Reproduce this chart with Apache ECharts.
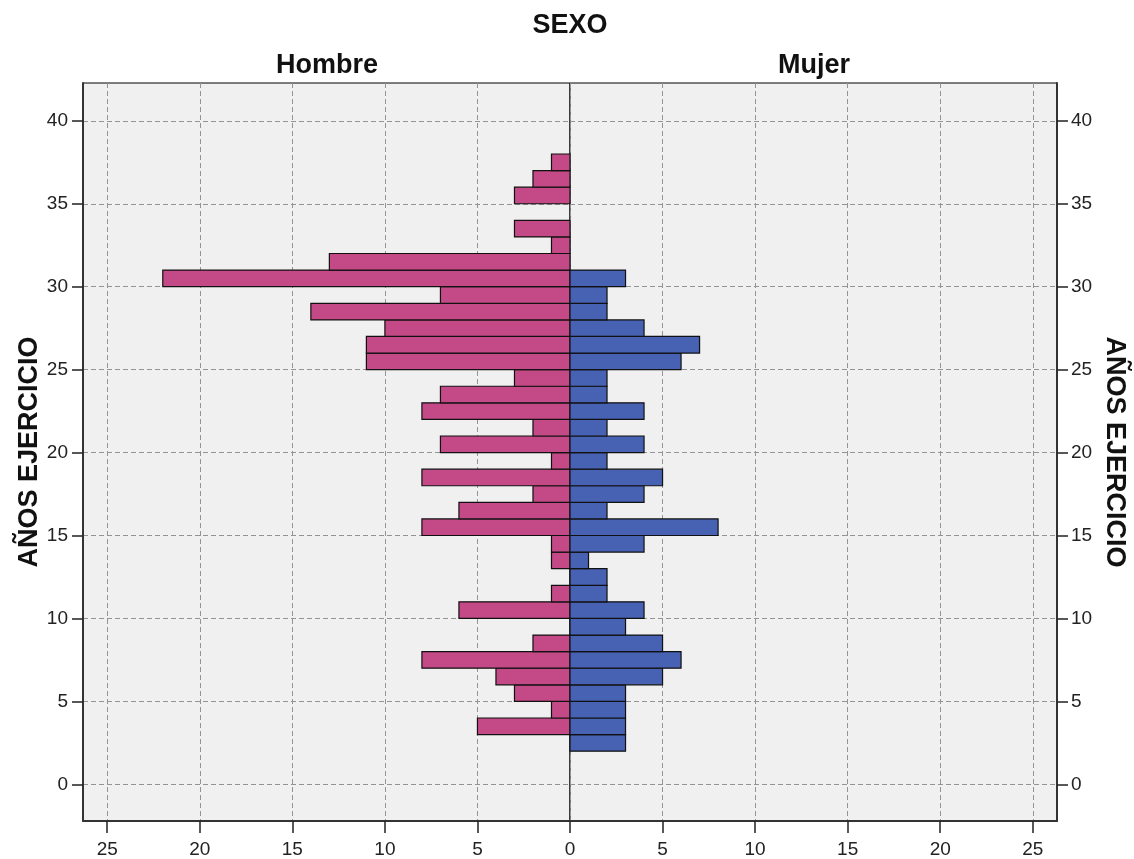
<!DOCTYPE html>
<html>
<head>
<meta charset="utf-8">
<script src="https://cdn.jsdelivr.net/npm/echarts@6/dist/echarts.min.js"></script>
<style>html,body{margin:0;padding:0;background:#fff;}#c{width:1134px;height:859px;}</style>
</head>
<body>
<div id="c"></div>
<script>
// Bin lower bounds (AÑOS EJERCICIO), each bin is 1 year wide
var bins = [2,3,4,5,6,7,8,9,10,11,12,13,14,15,16,17,18,19,20,21,22,23,24,25,26,27,28,29,30,31,32,33,34,35,36,37];
var binWidth = 1;
// Counts per bin
var hombre = [0,5,1,3,4,8,2,0,6,1,0,1,1,8,6,2,8,1,7,2,8,7,3,11,11,10,14,7,22,13,1,3,0,3,2,1];
var mujer  = [3,3,3,3,5,6,5,3,4,2,2,1,4,8,2,4,5,2,4,2,4,2,2,6,7,4,2,2,3,0,0,0,0,0,0,0];
var yTicks = [0,5,10,15,20,25,30,35,40];
var xTicksLeft = [5,10,15,20,25];
var xTicksRight = [0,5,10,15,20,25];
var titleText = 'SEXO';
var groupNames = ['Hombre','Mujer'];
var yName = 'AÑOS EJERCICIO';

var FONT = "'Liberation Sans', Arial, sans-serif";
var colHombre = '#C34A86';
var colMujer = '#4761B3';

function toData(vals){ return bins.map(function(b,i){ return [vals[i], b, b+binWidth]; }); }
function renderBar(color){
  return function(params, api){
    var v = api.value(0), lo = api.value(1), hi = api.value(2);
    if (!v) return null;
    var p0 = api.coord([0, lo]), p1 = api.coord([v, hi]);
    return {
      type:'rect',
      shape:{x:Math.min(p0[0],p1[0]), y:Math.min(p0[1],p1[1]), width:Math.abs(p1[0]-p0[0]), height:Math.abs(p1[1]-p0[1])},
      style:{fill:color, stroke:'#111', lineWidth:1.2}
    };
  };
}
var splitStyle = {show:true, lineStyle:{color:'#949494', width:1, type:[5,3]}};
var yMin = -2.21, yMax = 42.28, xMax = 26.31;

var chart = echarts.init(document.getElementById('c'));
chart.setOption({
  backgroundColor:'#ffffff',
  animation:false,
  graphic:[
    {type:'text', x:570, y:26, style:{text:titleText, font:"bold 27px "+FONT, fill:'#111', align:'center', verticalAlign:'middle'}},
    {type:'text', x:327, y:66, style:{text:groupNames[0], font:"bold 27px "+FONT, fill:'#111', align:'center', verticalAlign:'middle'}},
    {type:'text', x:814, y:66, style:{text:groupNames[1], font:"bold 27px "+FONT, fill:'#111', align:'center', verticalAlign:'middle'}}
  ],
  grid:[
    {left:83, top:83, width:487, height:738, show:true, backgroundColor:'#F0F0F0', borderColor:'#000', borderWidth:1, outerBoundsMode:'none', containLabel:false},
    {left:570, top:83, width:487, height:738, show:true, backgroundColor:'#F0F0F0', borderColor:'#000', borderWidth:1, outerBoundsMode:'none', containLabel:false}
  ],
  xAxis:[
    {gridIndex:0, type:'value', inverse:true, min:0, max:xMax, position:'bottom',
     axisLine:{show:true, onZero:false, lineStyle:{color:'#333', width:2}},
     axisTick:{show:true, length:12, customValues:xTicksLeft, lineStyle:{color:'#222', width:1.5}},
     axisLabel:{customValues:xTicksLeft, fontSize:19, fontFamily:FONT, color:'#222', margin:19},
     splitLine:splitStyle},
    {gridIndex:1, type:'value', min:0, max:xMax, position:'bottom',
     axisLine:{show:true, onZero:false, lineStyle:{color:'#333', width:2}},
     axisTick:{show:true, length:12, customValues:xTicksRight, lineStyle:{color:'#222', width:1.5}},
     axisLabel:{customValues:xTicksRight, fontSize:19, fontFamily:FONT, color:'#222', margin:19},
     splitLine:splitStyle}
  ],
  yAxis:[
    {gridIndex:0, type:'value', min:yMin, max:yMax, position:'left',
     name:yName, nameLocation:'middle', nameRotate:90, nameGap:40,
     nameTextStyle:{fontSize:27, fontWeight:'bold', fontFamily:FONT, color:'#111'},
     axisLine:{show:true, onZero:false, lineStyle:{color:'#333', width:2}},
     axisTick:{show:true, length:11, customValues:yTicks, lineStyle:{color:'#222', width:1.5}},
     axisLabel:{customValues:yTicks, fontSize:19, fontFamily:FONT, color:'#222', margin:15},
     splitLine:splitStyle},
    {gridIndex:1, type:'value', min:yMin, max:yMax, position:'right',
     name:yName, nameLocation:'middle', nameRotate:-90, nameGap:44,
     nameTextStyle:{fontSize:27, fontWeight:'bold', fontFamily:FONT, color:'#111'},
     axisLine:{show:true, onZero:false, lineStyle:{color:'#333', width:2}},
     axisTick:{show:true, length:11, customValues:yTicks, lineStyle:{color:'#222', width:1.5}},
     axisLabel:{customValues:yTicks, fontSize:19, fontFamily:FONT, color:'#222', margin:14},
     splitLine:splitStyle}
  ],
  series:[
    {type:'custom', name:groupNames[0], xAxisIndex:0, yAxisIndex:0, data:toData(hombre),
     encode:{x:0, y:[1,2]}, renderItem:renderBar(colHombre)},
    {type:'custom', name:groupNames[1], xAxisIndex:1, yAxisIndex:1, data:toData(mujer),
     encode:{x:0, y:[1,2]}, renderItem:renderBar(colMujer)}
  ]
});
</script>
</body>
</html>
